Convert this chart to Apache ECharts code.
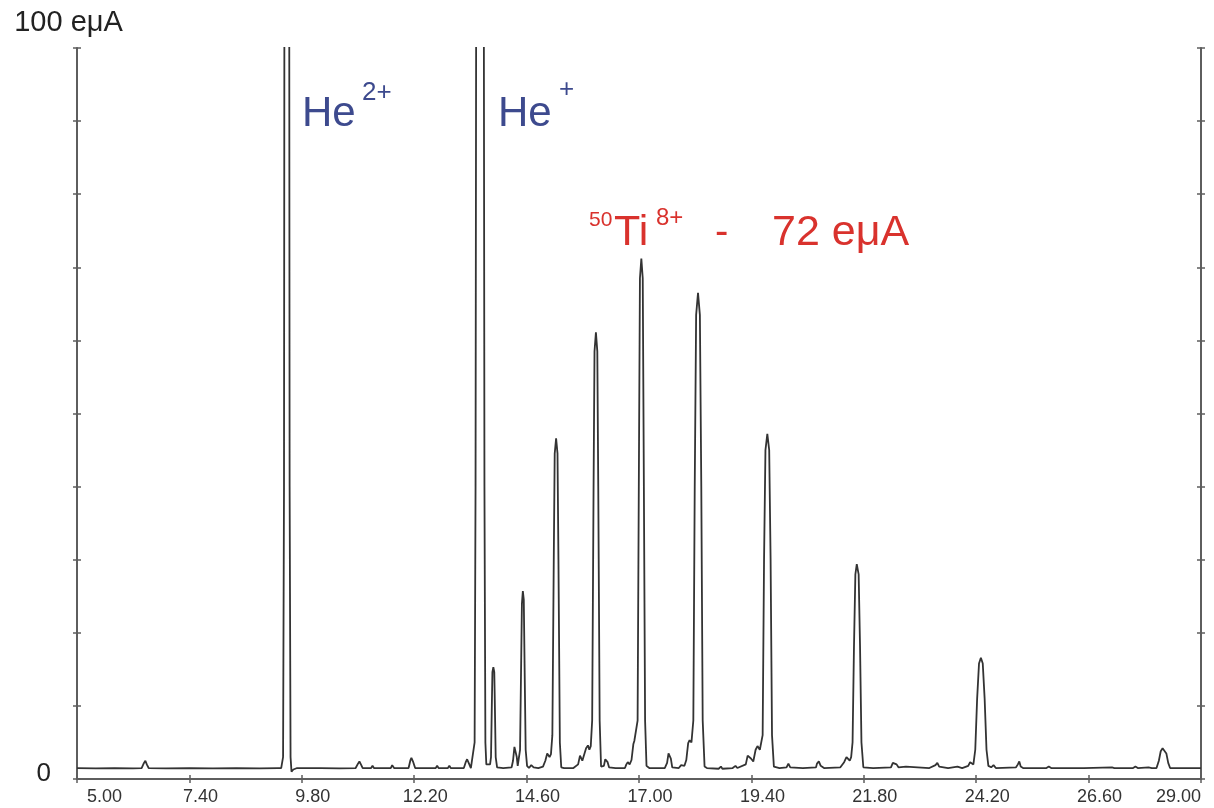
<!DOCTYPE html>
<html>
<head>
<meta charset="utf-8">
<script src="https://cdn.jsdelivr.net/npm/echarts@6/dist/echarts.min.js"></script>
<style>
  html, body { margin: 0; padding: 0; background: #fff; }
  #main { width: 1214px; height: 808px; }
</style>
</head>
<body>
<div id="main"></div>
<script>
// scan position (x) and beam current in eμA (y)
var scan = [
    [5.00, 1.5], [5.40, 1.45], [5.80, 1.5], [6.20, 1.45], [6.38, 1.5], [6.43, 2.2], [6.46, 2.5], [6.49, 2.0], [6.53, 1.5],
    [6.90, 1.45], [7.40, 1.5], [7.90, 1.45], [8.40, 1.5], [8.90, 1.45], [9.30, 1.5],
    // He2+
    [9.36, 1.5], [9.40, 3], [9.42, 40], [9.43, 120], [9.48, 160], [9.53, 120], [9.54, 40], [9.56, 3], [9.58, 1.0], [9.62, 1.3], [9.70, 1.5],
    [10.20, 1.5], [10.60, 1.45], [10.95, 1.5], [11.00, 2.1], [11.03, 2.4], [11.07, 1.9], [11.10, 1.5],
    [11.28, 1.5], [11.31, 1.8], [11.34, 1.5], [11.70, 1.5], [11.73, 1.9], [11.77, 1.5],
    [12.08, 1.5], [12.12, 2.6], [12.14, 2.9], [12.18, 2.3], [12.22, 1.5], [12.66, 1.5], [12.69, 1.8], [12.72, 1.5],
    [12.92, 1.5], [12.95, 1.8], [12.98, 1.5], [13.26, 1.5], [13.30, 2.3], [13.33, 2.7], [13.37, 2.1], [13.41, 1.5],
    // He+
    [13.45, 1.5], [13.49, 5], [13.51, 40], [13.53, 140], [13.60, 170], [13.68, 140], [13.70, 40], [13.72, 5], [13.74, 2.0], [13.78, 1.9], [13.82, 2.0],
    [13.84, 3], [13.86, 11], [13.87, 14.6], [13.89, 15.3], [13.91, 14.6], [13.92, 11], [13.94, 3], [13.97, 1.6], [14.10, 1.5], [14.28, 1.6],
    [14.31, 2.5], [14.34, 4.4], [14.36, 4.6], [14.39, 3.0], [14.41, 1.8],
    [14.44, 2.0], [14.46, 4], [14.48, 14], [14.50, 24], [14.52, 25.7], [14.54, 24.5], [14.56, 14], [14.58, 4], [14.61, 1.8], [14.65, 1.5],
    [14.70, 1.9], [14.72, 2.1], [14.75, 1.6], [14.85, 1.5], [14.95, 1.7], [15.00, 2.5], [15.04, 3.5], [15.06, 3.7], [15.09, 3.0], [15.12, 3.4],
    [15.15, 6], [15.18, 30], [15.20, 44.5], [15.23, 46.6], [15.26, 44.5], [15.28, 30], [15.31, 5], [15.34, 1.6], [15.40, 1.5], [15.60, 1.5],
    [15.70, 2.0], [15.74, 3.2], [15.76, 3.3], [15.79, 2.5], [15.83, 2.6], [15.87, 4.2], [15.91, 4.6], [15.94, 4.0], [15.97, 4.5],
    [16.00, 8], [16.03, 40], [16.05, 58.5], [16.08, 61.1], [16.11, 58.5], [16.13, 40], [16.16, 8], [16.19, 1.7],
    [16.25, 1.8], [16.28, 2.7], [16.30, 2.9], [16.33, 2.3], [16.36, 1.6], [16.50, 1.5], [16.70, 1.5],
    [16.73, 2.0], [16.76, 2.3], [16.80, 2.0], [16.84, 2.6], [16.88, 4.8], [16.90, 5.2], [16.94, 5.0],
    // 50Ti8+
    [16.97, 8], [17.00, 45], [17.02, 68.5], [17.05, 71.2], [17.08, 68.5], [17.10, 45], [17.13, 8], [17.16, 1.8], [17.22, 1.5], [17.55, 1.5],
    [17.60, 2.2], [17.63, 3.5], [17.65, 3.7], [17.68, 2.8], [17.71, 1.6], [17.85, 1.5],
    [17.90, 1.9], [17.93, 2.1], [17.97, 1.8], [18.01, 2.6], [18.05, 4.9], [18.08, 5.3], [18.12, 5.0],
    [18.16, 8], [18.19, 40], [18.22, 63.5], [18.26, 66.5], [18.30, 63.5], [18.33, 40], [18.36, 8], [18.40, 1.7], [18.45, 1.5],
    [18.70, 1.4], [18.75, 1.7], [18.78, 1.4], [19.00, 1.5], [19.06, 1.8], [19.10, 1.5],
    [19.28, 2.0], [19.32, 3.2], [19.35, 3.4], [19.39, 2.8], [19.44, 2.4], [19.49, 4.0], [19.53, 4.5], [19.58, 4.0], [19.61, 4.2],
    [19.64, 6], [19.67, 30], [19.70, 45], [19.74, 47.2], [19.78, 45], [19.81, 30], [19.84, 6], [19.88, 1.7], [20.00, 1.5],
    [20.15, 1.6], [20.19, 2.1], [20.23, 1.6], [20.50, 1.5], [20.78, 1.6],
    [20.80, 2.1], [20.84, 2.4], [20.88, 1.8], [20.95, 1.5], [21.30, 1.6],
    [21.38, 2.3], [21.43, 3.0], [21.46, 3.1], [21.50, 2.5], [21.53, 3],
    [21.56, 5], [21.59, 18], [21.62, 28], [21.65, 29.4], [21.69, 28], [21.72, 18], [21.75, 5], [21.79, 1.6],
    [22.00, 1.5], [22.38, 1.6], [22.42, 2.2], [22.46, 2.4], [22.50, 2.0], [22.54, 1.6], [22.70, 1.7], [22.74, 1.5], [23.20, 1.5],
    [23.33, 1.9], [23.37, 2.2], [23.41, 1.7], [23.60, 1.5], [23.80, 1.7], [23.90, 1.5],
    [24.03, 1.8], [24.07, 2.3], [24.10, 2.2], [24.14, 2.0],
    [24.18, 4], [24.22, 11], [24.26, 15.8], [24.30, 16.6], [24.34, 15.8], [24.38, 11], [24.42, 4], [24.46, 1.8],
    [24.52, 1.6], [24.57, 1.9], [24.62, 1.5], [25.05, 1.6], [25.09, 2.0], [25.12, 2.4], [25.15, 1.7], [25.20, 1.5],
    [25.70, 1.5], [25.75, 1.7], [25.80, 1.5], [26.50, 1.5], [27.10, 1.6], [27.15, 1.5], [27.55, 1.5], [27.60, 1.7], [27.65, 1.5], [27.88, 1.6], [27.95, 1.5],
    [28.05, 1.5], [28.10, 2.5], [28.14, 3.8], [28.18, 4.2], [28.22, 4.1], [28.26, 3.5], [28.30, 2.2], [28.34, 1.5], [28.70, 1.5], [29.00, 1.5]
];

var xMin = 5, xMax = 29, xStep = 2.4;
var yMin = 0, yMax = 100, yStep = 10;
var yUnit = '100 eμA';
var yZero = '0';

var font = "'Liberation Sans', Arial, sans-serif";
var frame = '#5e5e5e';
var blue = '#3d4a8e';
var red = '#d9322d';

var myChart = echarts.init(document.getElementById('main'));

function txt(x, y, s, size, color) {
    return {
        type: 'text', x: x, y: y, silent: true,
        style: { text: s, fontSize: size, fontFamily: font, fill: color, verticalAlign: 'middle' }
    };
}

// extra axes only to draw the inner half of the crossing ticks
function innerX(pos) {
    return {
        type: 'value', position: pos, min: xMin, max: xMax, interval: xStep,
        axisLine: { show: false },
        axisTick: { show: true, inside: true, length: 4, lineStyle: { color: frame, width: 1.5 } },
        splitLine: { show: false }, axisLabel: { show: false }
    };
}
function innerY(pos) {
    return {
        type: 'value', position: pos, min: yMin, max: yMax, interval: yStep,
        axisLine: { show: false },
        axisTick: { show: true, inside: true, length: 4, lineStyle: { color: frame, width: 1.5 } },
        splitLine: { show: false }, axisLabel: { show: false }
    };
}

var option = {
    backgroundColor: '#fff',
    animation: false,
    grid: { left: 77, right: 13, top: 48, bottom: 29 },
    xAxis: [{
        type: 'value', min: xMin, max: xMax, interval: xStep,
        axisLine: { lineStyle: { color: frame, width: 2 } },
        axisTick: { show: true, length: 4, lineStyle: { color: frame, width: 1.5 } },
        splitLine: { show: false },
        axisLabel: {
            color: '#333', fontSize: 18, fontFamily: font, margin: 9,
            alignMinLabel: 'left', alignMaxLabel: 'right',
            rich: { s: { width: 22 }, s0: { width: 10 } },
            formatter: function (v) {
                var t = v.toFixed(2);
                if (Math.abs(v - xMin) < 1e-6) return '{s0| }' + t;
                if (Math.abs(v - xMax) < 1e-6) return t;
                return '{s| }' + t;
            }
        }
    }, {
        type: 'value', position: 'top', min: xMin, max: xMax, interval: xStep,
        axisLine: { lineStyle: { color: frame, width: 2 } },
        axisTick: { show: true, length: 4, lineStyle: { color: frame, width: 1.5 } },
        splitLine: { show: false },
        axisLabel: { show: false }
    }, innerX('bottom'), innerX('top')],
    yAxis: [{
        type: 'value', min: yMin, max: yMax, interval: yStep,
        name: yUnit, nameLocation: 'end', nameGap: 25,
        nameTextStyle: { color: '#222', fontSize: 29, fontFamily: font, padding: [0, 17, 0, 0], verticalAlign: 'middle' },
        axisLine: { show: true, lineStyle: { color: frame, width: 2 } },
        axisTick: { show: true, length: 4, lineStyle: { color: frame, width: 1.5 } },
        splitLine: { show: false },
        axisLabel: {
            color: '#222', fontSize: 26, fontFamily: font, margin: 26,
            verticalAlign: 'bottom', lineHeight: 10,
            formatter: function (v) { return v === 0 ? yZero : ''; }
        }
    }, {
        type: 'value', position: 'right', min: yMin, max: yMax, interval: yStep,
        axisLine: { show: true, lineStyle: { color: frame, width: 2 } },
        axisTick: { show: true, length: 4, lineStyle: { color: frame, width: 1.5 } },
        splitLine: { show: false },
        axisLabel: { show: false }
    }, innerY('left'), innerY('right')],
    series: [{
        type: 'line',
        xAxisIndex: 0,
        yAxisIndex: 0,
        data: scan,
        showSymbol: false,
        clip: true,
        lineStyle: { color: '#333', width: 1.8 }
    }],
    graphic: [
        txt(302, 114, 'He', 42, blue),
        txt(362, 93, '2+', 26, blue),
        txt(498, 114, 'He', 42, blue),
        txt(559, 90, '+', 26, blue),
        txt(589, 220, '50', 21, red),
        txt(614, 233, 'Ti', 43, red),
        txt(656, 218, '8+', 24, red),
        txt(715, 233, '-', 40, red),
        txt(772, 233, '72 eμA', 43, red)
    ]
};

myChart.setOption(option);
</script>
</body>
</html>
